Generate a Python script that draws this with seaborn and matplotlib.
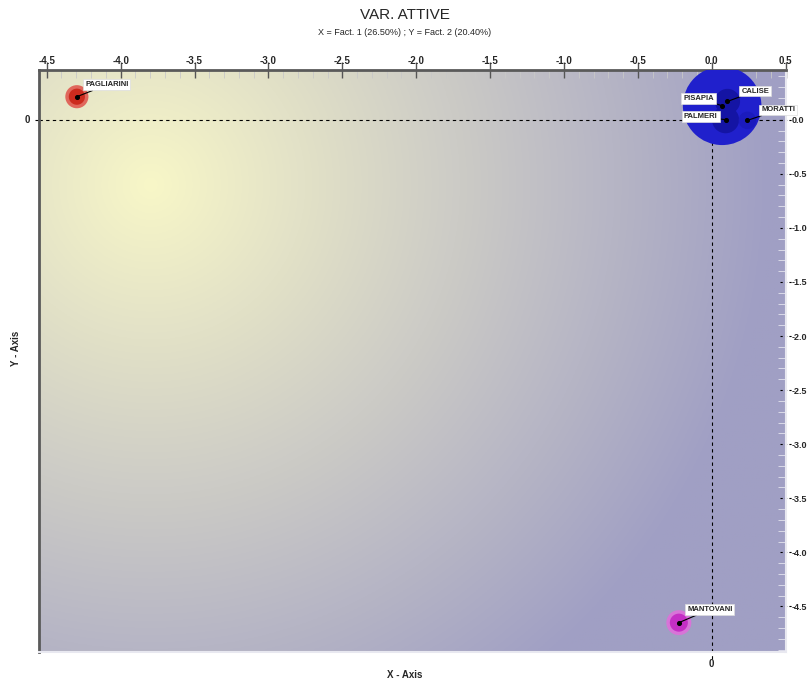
import numpy as np
import pandas as pd
import seaborn as sns
import matplotlib.pyplot as plt
from matplotlib.ticker import MultipleLocator
from matplotlib.transforms import blended_transform_factory

# valori
names = ["PISAPIA", "CALISE", "PALMERI", "MORATTI", "PAGLIARINI", "MANTOVANI"]
fact1 = [0.070, 0.106, 0.093, 0.241, -4.296, -0.223]
fact2 = [0.129, 0.169, 0.000, -0.006, 0.213, -4.650]
bubble = [3200, 330, 380, 160, 200, 240]
colors = ["#2020cc", "#1414a4", "#1414a4", "#1b1bbd", "#cc2b1e", "#c52fc5"]
halo = ["#2020cc", "#1414a4", "#1414a4", "#1b1bbd", "#e0675c", "#d874d8"]
widths = [0, 0, 0, 0, 2.5, 2.5]
# offset etichette (punti tipografici)
lab_dx = [-28, 10, -30, 10, 6, 6]
lab_dy = [3, 5, 0, 5, 6, 7]
x_ticks = np.arange(-4.5, 0.51, 0.5)
y_ticks = np.arange(-4.5, 0.01, 0.5)

df = pd.DataFrame({"name": names, "x": fact1, "y": fact2, "s": bubble})

sns.set_style("white")
plt.rcParams["font.family"] = ["Liberation Sans", "DejaVu Sans"]

fig = plt.figure(figsize=(8.1, 6.84), dpi=100)
ax = fig.add_axes([0.048, 0.047, 0.922, 0.851])
xlim = (-4.553, 0.50)
ylim = (-4.92, 0.462)

# sfondo sfumato
nx, ny = 400, 300
gx, gy = np.meshgrid(np.linspace(0, 747, nx), np.linspace(0, 582, ny))
d = np.hypot(gx - 111, gy - 115)
t = np.clip(d / 620, 0, 1)[..., None]
yel = np.array([248, 247, 200]) / 255
lav = np.array([160, 159, 196]) / 255
img = yel * (1 - t) + lav * t
ax.imshow(img, extent=[xlim[0], xlim[1], ylim[0], ylim[1]], aspect="auto",
          origin="upper", zorder=0)

sns.scatterplot(data=df, x="x", y="y", hue="name", size="name",
                palette=dict(zip(names, colors)),
                sizes=dict(zip(names, bubble)),
                edgecolor=halo, linewidth=widths, legend=False, ax=ax, zorder=3)
ax.scatter(df["x"], df["y"], s=7, color="black", zorder=5)

for n, xx, yy, dx, dy in zip(names, fact1, fact2, lab_dx, lab_dy):
    ax.annotate(n, (xx, yy), xytext=(dx, dy), textcoords="offset points",
                fontsize=5.5, fontweight="bold", ha="left", va="bottom",
                bbox=dict(boxstyle="square,pad=0.25", fc="white", ec="#dddddd", lw=0.5),
                arrowprops=dict(arrowstyle="-", color="black", lw=0.8,
                                shrinkA=0, shrinkB=0),
                zorder=6)

ax.set_xlim(xlim)
ax.set_ylim(ylim)

# assi a zero
ax.axhline(0, color="black", ls=(0, (3, 3)), lw=0.8, zorder=2)
ax.axvline(0, color="black", ls=(0, (3, 3)), lw=0.8, zorder=2)
tx = blended_transform_factory(ax.transAxes, ax.transData)
ty = blended_transform_factory(ax.transData, ax.transAxes)
ax.plot([-0.005, 0], [0, 0], transform=tx, color="black", ls=(0, (3, 3)),
        lw=0.8, clip_on=False)
ax.plot([0, 0], [-0.012, 0], transform=ty, color="black", ls=(0, (3, 3)),
        lw=0.8, clip_on=False)
ax.text(-0.012, 0, "0", transform=tx, ha="right", va="center",
        fontsize=7, fontweight="bold")
ax.text(0, -0.012, "0", transform=ty, ha="center", va="top",
        fontsize=7, fontweight="bold")

# tick in alto
ax.xaxis.tick_top()
ax.set_xticks(x_ticks)
ax.set_xticklabels([f"{v:.1f}" for v in x_ticks])
ax.xaxis.set_minor_locator(MultipleLocator(0.1))
ax.tick_params(axis="x", which="major", direction="inout", length=12,
               width=1, color="#555555", labelsize=7, pad=-3)
ax.tick_params(axis="x", which="minor", direction="in", length=6,
               color="#c8c8c8", top=True, bottom=False)

# tick a destra
ax.yaxis.tick_right()
ax.set_yticks(y_ticks)
ax.set_yticklabels([f"{v:.1f}" for v in y_ticks])
ax.yaxis.set_minor_locator(MultipleLocator(0.1))
ax.tick_params(axis="y", which="major", length=0, labelsize=6.5, pad=4)
ax.tick_params(axis="y", which="minor", direction="in", length=6,
               color="#e4e4ee", right=True, left=False)
for v in y_ticks:
    ax.plot([0.992, 1.008], [v, v], transform=tx, color="black",
            ls=(0, (2, 2)), lw=0.8, clip_on=False)
for lab in ax.get_xticklabels() + ax.get_yticklabels():
    lab.set_fontweight("bold")

for side in ["left", "top"]:
    ax.spines[side].set_color("#5a5a5a")
    ax.spines[side].set_linewidth(2)
for side in ["right", "bottom"]:
    ax.spines[side].set_color("#e8e8f0")
    ax.spines[side].set_linewidth(1.5)

ax.set_xlabel("")
ax.set_ylabel("")
fig.text(0.5, 0.006, "X - Axis", ha="center", va="bottom",
         fontsize=7, fontweight="bold")
fig.text(0.02, 0.49, "Y - Axis", ha="center", va="center", rotation=90,
         fontsize=7, fontweight="bold")
fig.text(0.5, 0.978, "VAR. ATTIVE", ha="center", va="center", fontsize=11)
fig.text(0.5, 0.953, "X = Fact. 1 (26.50%) ; Y = Fact. 2 (20.40%)",
         ha="center", va="center", fontsize=6.5)

fig.savefig("out.png", dpi=100)
